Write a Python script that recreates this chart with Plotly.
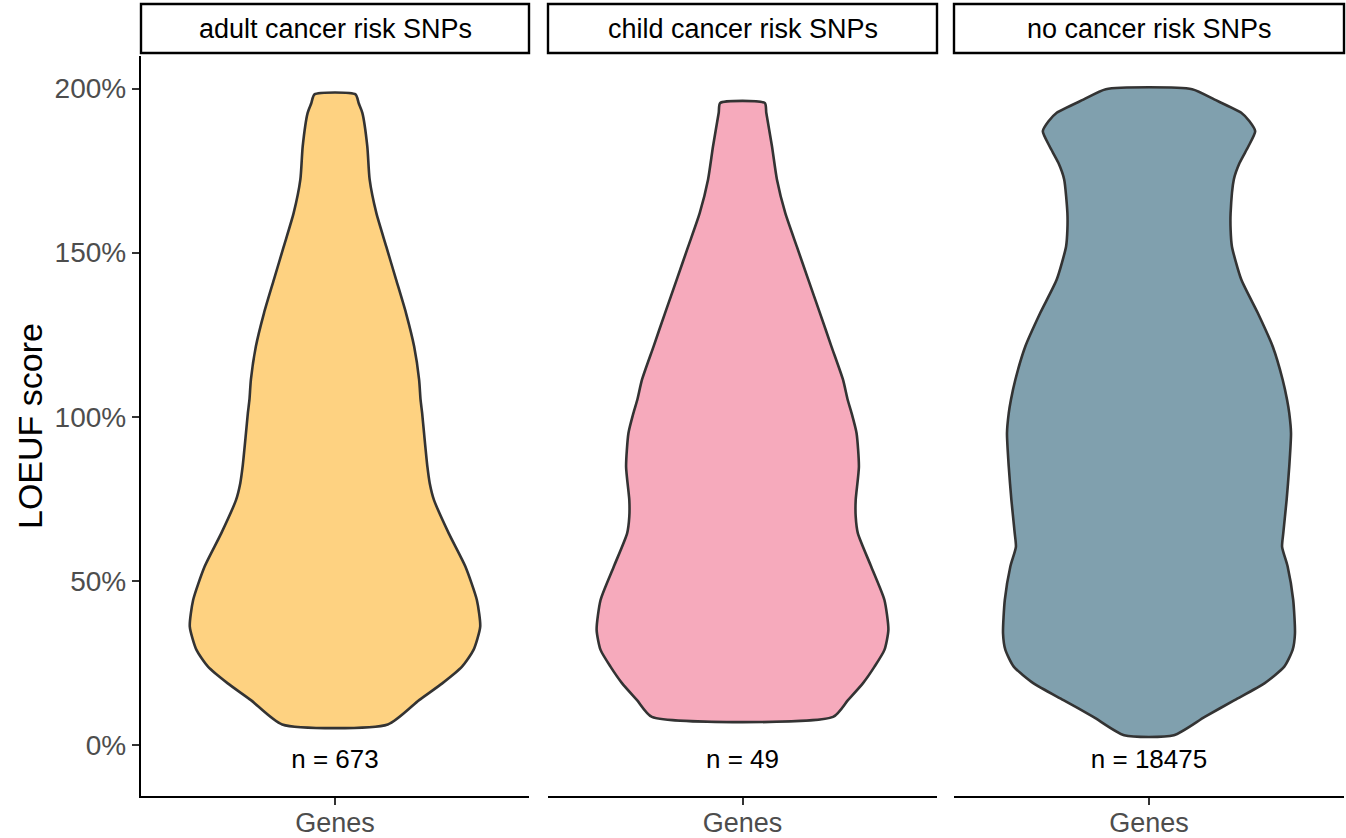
import plotly.graph_objects as go

# ---------------- data ----------------
categories = ["adult cancer risk SNPs", "child cancer risk SNPs", "no cancer risk SNPs"]
counts = [673, 49, 18475]
x_tick_label = "Genes"
fill_colors = ["#FED281", "#F6AABC", "#80A0AE"]

# violin profiles: LOEUF value (y) and relative density half-width (0..1)
adult_y = [1.982, 1.955, 1.926, 1.824, 1.723, 1.621, 1.519, 1.418, 1.316, 1.214, 1.113,
           1.052, 1.011, 0.950, 0.848, 0.798, 0.747, 0.645, 0.544, 0.442, 0.361, 0.290,
           0.239, 0.188, 0.137, 0.063]
adult_w = [0.141, 0.163, 0.188, 0.222, 0.238, 0.284, 0.352, 0.420, 0.488, 0.544, 0.578,
           0.588, 0.599, 0.612, 0.635, 0.651, 0.680, 0.782, 0.896, 0.975, 0.998, 0.952,
           0.873, 0.737, 0.578, 0.363]

child_y = [1.956, 1.926, 1.824, 1.723, 1.621, 1.519, 1.418, 1.316, 1.214, 1.113, 1.052,
           1.011, 0.950, 0.848, 0.747, 0.696, 0.645, 0.544, 0.442, 0.351, 0.290, 0.239,
           0.188, 0.137, 0.086]
child_w = [0.153, 0.163, 0.202, 0.236, 0.293, 0.372, 0.451, 0.531, 0.610, 0.689, 0.721,
           0.748, 0.782, 0.798, 0.776, 0.776, 0.791, 0.882, 0.973, 1.000, 0.973, 0.905,
           0.825, 0.723, 0.621]

none_y = [1.998, 1.966, 1.926, 1.900, 1.870, 1.824, 1.773, 1.723, 1.621, 1.570, 1.519,
          1.418, 1.316, 1.214, 1.113, 1.052, 1.011, 0.950, 0.848, 0.747, 0.645, 0.604,
          0.544, 0.442, 0.340, 0.290, 0.239, 0.188, 0.137, 0.086, 0.030]
none_w = [0.295, 0.449, 0.631, 0.687, 0.726, 0.680, 0.619, 0.580, 0.558, 0.558, 0.567,
          0.631, 0.744, 0.846, 0.914, 0.944, 0.959, 0.971, 0.959, 0.941, 0.918, 0.910,
          0.948, 0.986, 0.998, 0.982, 0.925, 0.789, 0.585, 0.381, 0.170]

profiles = [(adult_y, adult_w), (child_y, child_w), (none_y, none_w)]
y_ticks = [0, 0.5, 1.0, 1.5, 2.0]

# ---------------- layout constants ----------------
W, H = 1346, 838
FONT = "Liberation Sans, Arial, sans-serif"
x_domains = [[141 / W, 529 / W], [548 / W, 937 / W], [954 / W, 1344 / W]]
y_domain = [1 - 796 / H, 1 - 56 / H]
y_range = [-0.155, 2.099]
x_range = [0.4, 1.6]
max_half = 0.45
text_y = -0.05

fig = go.Figure()

for i, ((ys, ws), col) in enumerate(zip(profiles, fill_colors)):
    xa = "x" if i == 0 else f"x{i+1}"
    ya = "y" if i == 0 else f"y{i+1}"
    right_x = [1 + max_half * w for w in ws]
    left_x = [1 - max_half * w for w in ws][::-1]
    px = right_x + left_x + [right_x[0]]
    py = list(ys) + list(ys)[::-1] + [ys[0]]
    fig.add_trace(go.Scatter(
        x=px, y=py, mode="lines", fill="toself", fillcolor=col,
        line=dict(color="#333333", width=2.6, shape="spline", smoothing=0.6),
        xaxis=xa, yaxis=ya, showlegend=False, hoverinfo="skip"))
    fig.add_trace(go.Scatter(
        x=[1], y=[text_y], mode="text", text=[f"n = {counts[i]}"],
        textfont=dict(family=FONT, size=26, color="black"),
        xaxis=xa, yaxis=ya, showlegend=False, hoverinfo="skip"))

layout = dict(
    width=W, height=H,
    margin=dict(l=0, r=0, t=0, b=0),
    paper_bgcolor="white", plot_bgcolor="white",
    font=dict(family=FONT),
    showlegend=False,
)

for i in range(3):
    xk = "xaxis" if i == 0 else f"xaxis{i+1}"
    yk = "yaxis" if i == 0 else f"yaxis{i+1}"
    ya = "y" if i == 0 else f"y{i+1}"
    layout[xk] = dict(
        domain=x_domains[i], anchor=ya, range=x_range,
        tickvals=[1], ticktext=[x_tick_label],
        showline=True, linecolor="black", linewidth=2.4,
        ticks="outside", ticklen=7, tickwidth=2, tickcolor="#333333",
        tickfont=dict(family=FONT, size=27, color="#4D4D4D"),
        ticklabelstandoff=-6,
        showgrid=False, zeroline=False, automargin=False, fixedrange=True)
    ydict = dict(
        domain=y_domain, anchor="x" if i == 0 else f"x{i+1}", range=y_range,
        showgrid=False, zeroline=False, automargin=False, fixedrange=True)
    if i == 0:
        ydict.update(
            tickvals=y_ticks, tickformat=".0%",
            showline=True, linecolor="black", linewidth=2.4,
            ticks="outside", ticklen=7, tickwidth=2, tickcolor="#333333",
            tickfont=dict(family=FONT, size=28, color="#4D4D4D"))
    else:
        ydict.update(matches="y", showticklabels=False, showline=False, ticks="")
    layout[yk] = ydict

shapes = []
annotations = []
for i, cat in enumerate(categories):
    xref = "x domain" if i == 0 else f"x{i+1} domain"
    shapes.append(dict(type="rect", xref=xref, yref="paper",
                       x0=0, x1=1, y0=1 - 53 / H, y1=1 - 4 / H,
                       line=dict(color="black", width=2.4), fillcolor="white",
                       layer="above"))
    annotations.append(dict(text=cat, xref=xref, yref="paper", x=0.5, y=1 - 29 / H,
                            showarrow=False, xanchor="center", yanchor="middle",
                            font=dict(family=FONT, size=27, color="black")))

annotations.append(dict(text="LOEUF score", xref="paper", yref="paper",
                        x=30 / W, y=1 - 426 / H, textangle=-90, showarrow=False,
                        xanchor="center", yanchor="middle",
                        font=dict(family=FONT, size=34, color="black")))

layout["shapes"] = shapes
layout["annotations"] = annotations
fig.update_layout(**layout)

fig.write_html("out.html", config={"displayModeBar": False},
               post_script="document.body.style.margin='0';document.body.style.overflow='hidden';")
